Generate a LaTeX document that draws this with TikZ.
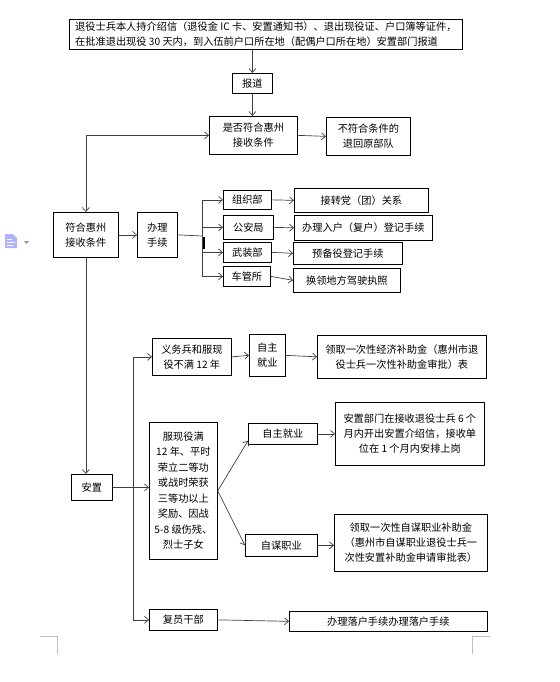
\documentclass[tikz,border=0pt]{standalone}
\usepackage{fontspec}
\newfontfamily\cjk{Noto Sans CJK SC}
\usetikzlibrary{arrows.meta}

\tikzset{
  box/.style={draw, line width=0.7pt, anchor=north west, align=center, inner sep=1pt,
    font=\cjk\fontsize{10.2}{15}\selectfont},
  arr/.style={-{Straight Barb[length=4pt,width=7pt]}, draw=black!75, line width=0.7pt},
  ln/.style={draw=black!75, line width=0.7pt},
  cornermark/.style={draw=black!25, line width=0.6pt}
}

\begin{document}
\begin{tikzpicture}[x=1pt, y=-1pt]
	\useasboundingbox (0,0) rectangle (559,682);

	% top part
	\node (top) [box, align=left, minimum width=393, minimum height=30] at (69,19)
		{退役士兵本人持介绍信（退役金 IC 卡、安置通知书）、退出现役证、户口簿等证件，\\在批准退出现役 30 天内，到入伍前户口所在地（配偶户口所在地）安置部门报道};
	\node (baodao) [box, minimum width=40, minimum height=20] at (232,73) {报道};
	\node (shifou) [box, minimum width=88, minimum height=38] at (209,116) {是否符合惠州\\接收条件};
	\node (bufu) [box, minimum width=84, minimum height=38] at (326,117) {不符合条件的\\退回原部队};

	\node (fuhe) [box, minimum width=65, minimum height=45] at (53,212) {符合惠州\\接收条件};
	\node (banli) [box, minimum width=40, minimum height=45] at (137,212) {办理\\手续};
	\node (zuzhi) [box, minimum width=48, minimum height=19] at (223,190) {组织部};
	\node (gongan) [box, minimum width=50, minimum height=24] at (223,215) {公安局};
	\node (wuzhuang) [box, minimum width=48, minimum height=20] at (223,242) {武装部};
	\node (cheguan) [box, minimum width=47, minimum height=20] at (223,266) {车管所};
	\node (dangtuan) [box, minimum width=134, minimum height=24] at (294,188) {接转党（团）关系};
	\node (ruhu) [box, minimum width=138, minimum height=25] at (294,215) {办理入户（复户）登记手续};
	\node (yubeiyi) [box, minimum width=109, minimum height=22] at (293,242) {预备役登记手续};
	\node (jiazhao) [box, minimum width=107, minimum height=24] at (293,268) {换领地方驾驶执照};

	% placement part
	\node (anzhi) [box, minimum width=41, minimum height=26] at (71,474) {安置};
	\node (yiwu) [box, minimum width=79, minimum height=37] at (152,338) {义务兵和服现\\役不满 12 年};
	\node (zizhuA) [box, minimum width=36, minimum height=42] at (249,334) {自主\\就业};
	\node (buzhuA) [box, minimum width=169, minimum height=43] at (317,335)
		{领取一次性经济补助金（惠州市退\\役士兵一次性补助金审批）表};
	\node (fuxian) [box, minimum width=68, minimum height=137, font=\cjk\fontsize{10.2}{15.5}\selectfont] at (149,422)
		{服现役满\\12 年、平时\\荣立二等功\\或战时荣获\\三等功以上\\奖励、因战\\5-8 级伤残、\\烈士子女};
	\node (zizhuB) [box, minimum width=69, minimum height=21] at (248,423) {自主就业};
	\node (shanggang) [box, minimum width=149, minimum height=63] at (335,402)
		{安置部门在接收退役士兵 6 个\\月内开出安置介绍信，接收单\\位在 1 个月内安排上岗};
	\node (zimou) [box, minimum width=72, minimum height=22] at (245,534) {自谋职业};
	\node (buzhuB) [box, minimum width=153, minimum height=57] at (334,514)
		{领取一次性自谋职业补助金\\（惠州市自谋职业退役士兵一\\次性安置补助金申请审批表）};
	\node (fuyuan) [box, minimum width=68, minimum height=21] at (149,609) {复员干部};
	\node (luohu) [box, minimum width=198, minimum height=20] at (289,611) {办理落户手续办理落户手续};

	% connectors, top part
	\draw[arr] (top.south -| baodao.north) -- (baodao.north);
	\draw[arr] (baodao.south) -- (baodao.south |- shifou.north);
	\draw[arr] (shifou.east) -- (bufu.west);
	\coordinate (back) at (fuhe.north |- shifou.west);
	\draw[arr] (back) -- (shifou.west);
	\draw[arr] (back) -- (fuhe.north);
	\draw[arr] (fuhe.east) -- (banli.west);

	\coordinate (split) at (202,236);
	\draw[ln] (banli.east) -- (split);
	\draw[ln] (split |- zuzhi.west) -- (split |- cheguan.west);
	\draw[arr] (split |- zuzhi.west) -- (zuzhi.west);
	\draw[arr] (split |- gongan.west) -- (gongan.west);
	\draw[arr] (split |- wuzhuang.west) -- (wuzhuang.west);
	\draw[arr] (split |- cheguan.west) -- (cheguan.west);
	\draw[line width=1.6pt] (204,237) -- (204,249);

	\draw[arr] (zuzhi.east) -- (dangtuan.west);
	\draw[arr] (gongan.east) -- (ruhu.west);
	\draw[arr] (wuzhuang.east) -- (yubeiyi.west);
	\draw[arr] (cheguan.east) -- (jiazhao.west);

	% connectors, placement part
	\draw[arr] (fuhe.south) -- (fuhe.south |- anzhi.north);
	\coordinate (trunkA) at ([xshift=-19pt]yiwu.west);
	\coordinate (trunkB) at (trunkA |- fuyuan.west);
	\draw[ln] (trunkA) -- (trunkB);
	\draw[arr] (trunkA) -- (yiwu.west);
	\draw[arr] (trunkB) -- (fuyuan.west);
	\draw[arr] (anzhi.east) -- (anzhi.east -| fuxian.west);

	\draw[arr] (yiwu.east) -- (zizhuA.west);
	\draw[arr] (zizhuA.east) -- (buzhuA.west);
	\draw[arr] (fuxian.east) -- ([yshift=4pt]zizhuB.south west);
	\draw[arr] (fuxian.east) -- (zimou.west);
	\draw[arr] (zizhuB.east) -- (zizhuB.east -| shanggang.west);
	\draw[arr] (zimou.east) -- (zimou.east -| buzhuB.west);
	\draw[arr] (fuyuan.east) -- (luohu.west);

	% page corner marks and side icon
	\draw[cornermark] (40,636) -- (57,636) -- (57,654);
	\draw[cornermark] (490,636) -- (472,636) -- (472,654);
	\fill[blue!30] (5,234) -- (13,234) -- (17,238) -- (17,248) -- (5,248) -- cycle;
	\draw[white, line width=0.8pt] (7,239) -- (12,239) (7,242) -- (15,242) (7,245) -- (13,245);
	\fill[black!40] (24,241) -- (29,241) -- (26.5,244) -- cycle;
\end{tikzpicture}
\end{document}
